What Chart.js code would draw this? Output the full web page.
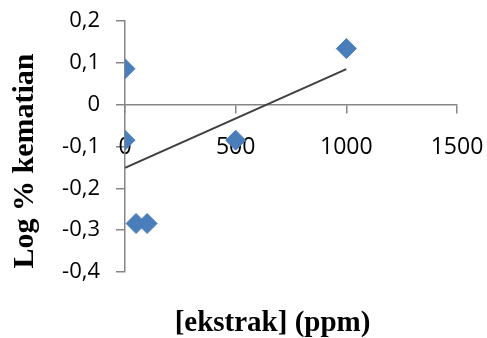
<!DOCTYPE html>
<html>
<head>
<meta charset="utf-8">
<script src="https://cdn.jsdelivr.net/npm/chart.js@4.4.1/dist/chart.umd.min.js"></script>
<style>
  html, body { margin: 0; padding: 0; background: #ffffff; }
  #wrap { width: 487px; height: 338px; position: relative; }
</style>
</head>
<body>
<div id="wrap"><canvas id="c" width="487" height="338"></canvas></div>
<script>
// Data
const xValues = [0, 0, 50, 100, 500, 1000];
const yValues = [0.086, -0.085, -0.284, -0.284, -0.085, 0.134];
const trendX = [0, 1000];
const trendY = [-0.151, 0.085];
const xTicks = [0, 500, 1000, 1500];
const yTicks = [0.2, 0.1, 0, -0.1, -0.2, -0.3, -0.4];
const xTitle = '[ekstrak] (ppm)';
const yTitle = 'Log % kematian';

const axisColor = '#868686';
const fmtY = v => (Math.abs(v) < 1e-9 ? '0' : v.toFixed(1).replace('.', ','));

const titlesPlugin = {
  id: 'titles',
  afterDraw(chart) {
    const ctx = chart.ctx;
    ctx.save();
    ctx.fillStyle = '#000000';
    ctx.font = 'bold 29px "Liberation Serif", "Times New Roman", serif';
    ctx.textAlign = 'center';
    ctx.textBaseline = 'alphabetic';
    ctx.fillText(xTitle, 272.5, 331);
    ctx.translate(33, 161);
    ctx.rotate(-Math.PI / 2);
    ctx.font = 'bold 30px "Liberation Serif", "Times New Roman", serif';
    ctx.fillText(yTitle, 0, 0);
    ctx.restore();
  }
};

const noSpace = s => {
  if (s.isHorizontal()) { s.height = 0; } else { s.width = 0; }
  s.paddingLeft = 0; s.paddingRight = 0; s.paddingTop = 0; s.paddingBottom = 0;
};

const points = xValues.map((x, i) => ({ x: x, y: yValues[i] }));
const trend = trendX.map((x, i) => ({ x: x, y: trendY[i] }));

new Chart(document.getElementById('c'), {
  type: 'scatter',
  data: {
    datasets: [
      {
        label: 'data',
        data: points,
        pointStyle: 'rectRot',
        pointRadius: 10,
        pointHoverRadius: 10,
        backgroundColor: '#4a7ebb',
        borderColor: '#4a7ebb',
        borderWidth: 1,
        order: 1,
        xAxisID: 'x',
        yAxisID: 'y'
      },
      {
        label: 'trend',
        type: 'line',
        data: trend,
        showLine: true,
        pointRadius: 0,
        borderColor: '#404040',
        borderWidth: 2,
        fill: false,
        order: 2,
        xAxisID: 'x',
        yAxisID: 'y'
      }
    ]
  },
  options: {
    responsive: false,
    animation: false,
    events: [],
    layout: { padding: { left: 125, top: 21, right: 30, bottom: 66 } },
    plugins: { legend: { display: false }, tooltip: { enabled: false } },
    scales: {
      x: {
        type: 'linear',
        min: 0, max: 1500,
        position: { y: 0 },
        z: 1,
        afterFit: noSpace,
        afterBuildTicks: s => { s.ticks = xTicks.map(v => ({ value: v })); },
        grid: { display: false },
        border: { display: false },
        ticks: {
          color: '#000000',
          padding: 21,
          maxRotation: 0,
          autoSkip: false,
          font: { family: '"Open Sans", "Liberation Sans", sans-serif', size: 23 },
          callback: v => String(v)
        }
      },
      y: {
        type: 'linear',
        min: -0.4, max: 0.2,
        // label column sits 25px left of the x=0 axis line
        position: { x: -113 },
        z: 1,
        afterFit: noSpace,
        afterBuildTicks: s => { s.ticks = yTicks.map(v => ({ value: v })); },
        grid: { display: false },
        border: { display: false },
        ticks: {
          color: '#000000',
          padding: 0,
          autoSkip: false,
          font: { family: '"Open Sans", "Liberation Sans", sans-serif', size: 22 },
          callback: v => fmtY(v)
        }
      },
      x2: {
        type: 'linear',
        axis: 'x',
        min: 0, max: 1500,
        position: { y: 0 },
        z: 0,
        afterFit: noSpace,
        afterBuildTicks: s => { s.ticks = xTicks.map(v => ({ value: v })); },
        grid: { drawOnChartArea: false, drawTicks: true, tickLength: 8, color: axisColor, lineWidth: 1.5 },
        border: { display: true, color: axisColor, width: 1.5 },
        ticks: { display: false }
      },
      y2: {
        type: 'linear',
        axis: 'y',
        min: -0.4, max: 0.2,
        position: { x: 0 },
        z: 0,
        afterFit: noSpace,
        afterBuildTicks: s => { s.ticks = yTicks.map(v => ({ value: v })); },
        grid: { drawOnChartArea: false, drawTicks: true, tickLength: 8, color: axisColor, lineWidth: 1.5 },
        border: { display: true, color: axisColor, width: 1.5 },
        ticks: { display: false }
      }
    }
  },
  plugins: [titlesPlugin]
});
</script>
</body>
</html>
